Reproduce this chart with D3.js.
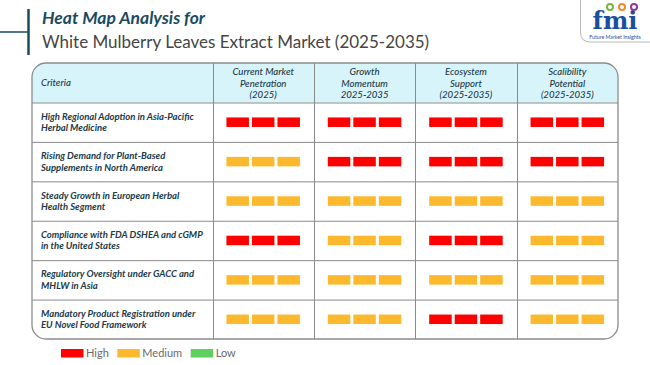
<!DOCTYPE html>
<html><head><meta charset="utf-8">
<script src="https://cdn.jsdelivr.net/npm/d3@7"></script>
<style>body{margin:0;background:#fff;} svg{display:block;font-family:Lato,"Open Sans",sans-serif;}</style>
</head><body>
<svg id="c" width="650" height="365"></svg>
<script>
const columns = [
  ["Current Market","Penetration","(2025)"],
  ["Growth","Momentum","2025-2035"],
  ["Ecosystem","Support","(2025-2035)"],
  ["Scalibility","Potential","(2025-2035)"]
];
const criteria = [
  ["High Regional Adoption in Asia-Pacific","Herbal Medicine"],
  ["Rising Demand for Plant-Based","Supplements in North America"],
  ["Steady Growth in European Herbal","Health Segment"],
  ["Compliance with FDA DSHEA and cGMP","in the United States"],
  ["Regulatory Oversight under GACC and","MHLW in Asia"],
  ["Mandatory Product Registration under","EU Novel Food Framework"]
];
const ratings = [
  ["High","High","High","High"],
  ["Medium","High","High","High"],
  ["Medium","Medium","Medium","Medium"],
  ["High","Medium","High","Medium"],
  ["Medium","Medium","Medium","Medium"],
  ["Medium","Medium","High","Medium"]
];
const levels = ["High","Medium","Low"];
const levelColors = ["#fe0000","#fdb92e","#5ed05e"];

const svg = d3.select("#c");
const color = d3.scaleOrdinal().domain(levels).range(levelColors);

// Title decoration
const teal = "#1b4b5e";
svg.append("line").attr("x1",28.5).attr("x2",28.5).attr("y1",9).attr("y2",55).attr("stroke",teal).attr("stroke-width",2.5);
svg.append("line").attr("x1",0).attr("x2",28.5).attr("y1",32).attr("y2",32).attr("stroke",teal).attr("stroke-width",1.5);
svg.append("text").attr("x",42).attr("y",24).attr("fill",teal).attr("font-size",17.5).attr("font-weight",700).attr("font-style","italic").text("Heat Map Analysis for");
svg.append("text").attr("x",42).attr("y",48).attr("fill","#454545").attr("font-size",17).text("White Mulberry Leaves Extract Market (2025-2035)");

// Logo
const logo = svg.append("g");
logo.append("path").attr("d","M580.5,0 V32 Q580.5,42 590.5,42 H650").attr("fill","#fff").attr("stroke","#b8b8b8").attr("stroke-width",1);
logo.append("text").attr("x",615).attr("y",29).attr("text-anchor","middle").attr("fill","#1a4e9e").attr("font-size",24).attr("font-weight",900).attr("font-family","DejaVu Serif, serif").text("fmi");
[[610,"#7ab342"],[622,"#f28a2e"],[634,"#8e3b8f"]].forEach(d=>{
  logo.append("circle").attr("cx",d[0]).attr("cy",7).attr("r",3).attr("fill","none").attr("stroke",d[1]).attr("stroke-width",2);
});
logo.append("text").attr("x",615).attr("y",39).attr("text-anchor","middle").attr("fill","#1a4e9e").attr("font-size",5.2).text("Future Market Insights");

// Table
const T = {x0:32, x1:618, y0:63, hdr:102.5, y1:339, r:14};
const xCol = d3.scaleBand().domain(d3.range(columns.length)).range([212.5, T.x1]);
const yRow = d3.scaleBand().domain(d3.range(criteria.length)).range([T.hdr, T.y1]);

const clip = svg.append("defs").append("clipPath").attr("id","tc");
clip.append("rect").attr("x",T.x0).attr("y",T.y0).attr("width",T.x1-T.x0).attr("height",T.y1-T.y0).attr("rx",T.r);

const tb = svg.append("g").attr("clip-path","url(#tc)");
tb.append("rect").attr("x",T.x0).attr("y",T.y0).attr("width",T.x1-T.x0).attr("height",T.hdr-T.y0).attr("fill","#d8f4fb");

// grid lines
tb.selectAll("line.h").data(d3.range(criteria.length)).join("line")
  .attr("x1",T.x0).attr("x2",T.x1).attr("y1",d=>yRow(d)+0.5).attr("y2",d=>yRow(d)+0.5)
  .attr("stroke","#8a8a8a").attr("stroke-width",1);
tb.selectAll("line.v").data(d3.range(columns.length)).join("line")
  .attr("x1",d=>Math.round(xCol(d))+0.5).attr("x2",d=>Math.round(xCol(d))+0.5).attr("y1",T.y0).attr("y2",T.y1)
  .attr("stroke","#8a8a8a").attr("stroke-width",1);

svg.append("rect").attr("x",T.x0).attr("y",T.y0).attr("width",T.x1-T.x0).attr("height",T.y1-T.y0).attr("rx",T.r)
  .attr("fill","none").attr("stroke","#8c8c8c").attr("stroke-width",1.3);

// header text
const txtCol = "#213a48";
svg.append("text").attr("x",41).attr("y",86).attr("fill",txtCol).attr("font-size",9.6).attr("font-style","italic").attr("font-weight",500).text("Criteria");
columns.forEach((lines,i)=>{
  const cx = xCol(i)+xCol.bandwidth()/2;
  lines.forEach((l,j)=>{
    svg.append("text").attr("x",cx).attr("y",75+j*11.7).attr("text-anchor","middle").attr("fill",txtCol)
      .attr("font-size",9.6).attr("font-style","italic").attr("font-weight",500).text(l);
  });
});

// criteria text
criteria.forEach((lines,r)=>{
  const cy = yRow(r)+yRow.bandwidth()/2;
  lines.forEach((l,j)=>{
    svg.append("text").attr("x",41).attr("y",cy-2.5+j*11.5).attr("fill",txtCol)
      .attr("font-size",9.5).attr("font-weight",700).attr("font-style","italic").text(l);
  });
});

// blocks
const bw = 22.5, bh = 9.5, gap = 3;
ratings.forEach((row,r)=>{
  row.forEach((v,c)=>{
    const cx = xCol(c)+xCol.bandwidth()/2;
    const cy = yRow(r)+yRow.bandwidth()/2;
    const start = cx - (3*bw+2*gap)/2;
    for(let k=0;k<3;k++){
      svg.append("rect").attr("x",start+k*(bw+gap)).attr("y",cy-bh/2).attr("width",bw).attr("height",bh).attr("fill",color(v));
    }
  });
});

// legend
const lg = svg.append("g");
let lx = 61;
levels.forEach((lv,i)=>{
  const g = lg.append("g");
  g.append("rect").attr("x",lx).attr("y",349).attr("width",22.5).attr("height",8.5).attr("fill",color(lv));
  const t = g.append("text").attr("x",lx+25).attr("y",357).attr("fill","#6a6a6a").attr("font-size",11).text(lv);
  lx += 25 + t.node().getComputedTextLength() + 8.5;
});
</script>
</body></html>
